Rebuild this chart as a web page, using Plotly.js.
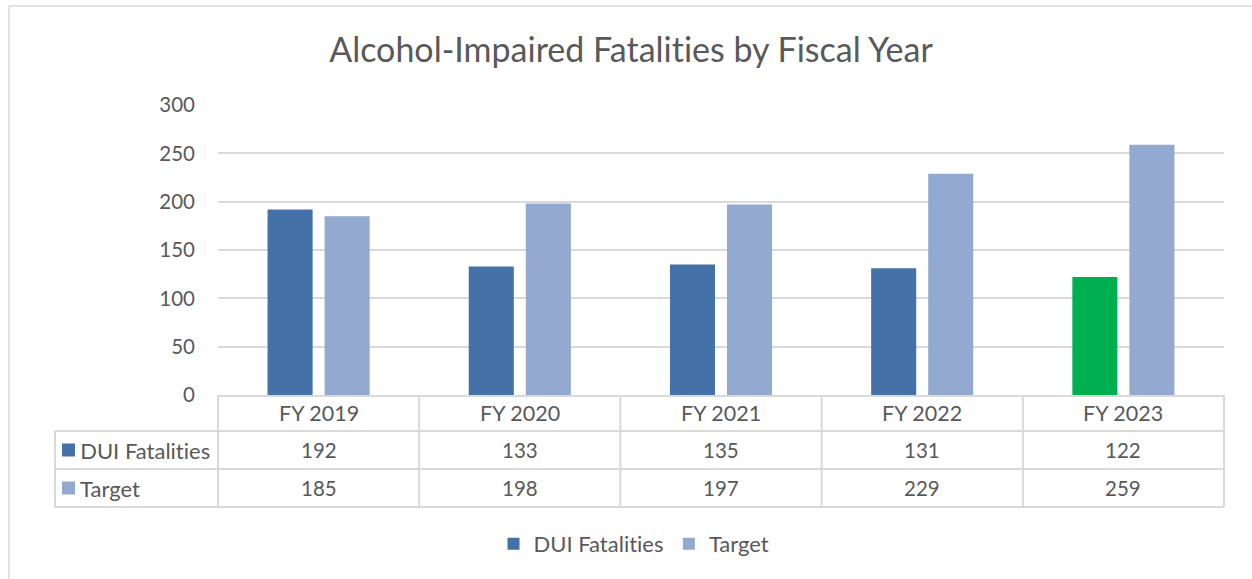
<!DOCTYPE html>
<html>
<head>
<meta charset="utf-8">
<script src="https://cdn.plot.ly/plotly-3.0.1.min.js"></script>
<style>html,body{margin:0;padding:0;background:#fff;}#chart{width:1252px;height:579px;}
#chart text{font-variant-ligatures:none;font-feature-settings:"liga" 0,"clig" 0;}</style>
</head>
<body>
<div id="chart"></div>
<script>
const categories = ['FY 2019', 'FY 2020', 'FY 2021', 'FY 2022', 'FY 2023'];
const duiFatalities = [192, 133, 135, 131, 122];
const target = [185, 198, 197, 229, 259];
const seriesNames = ['DUI Fatalities', 'Target'];
const yTicks = [0, 50, 100, 150, 200, 250, 300];

const W = 1252, H = 579;
const L = 218, R = 1224, T = 105, B = 395;
const pw = R - L, ph = B - T;
const px = x => (x - L) / pw;
const py = y => (B - y) / ph;

const FONT = 'Lato, "Open Sans", sans-serif';
const GREY = '#595959';
const LINE = '#d9d9d9';
const BLUE = '#4472a8';
const LIGHT = '#94a9d0';
const GREEN = '#00b050';

const duiColors = duiFatalities.map((v, i) => i === categories.length - 1 ? GREEN : BLUE);

const traces = [
  {type: 'bar', x: categories, y: duiFatalities, name: seriesNames[0],
   marker: {color: duiColors}, hoverinfo: 'x+y+name'},
  {type: 'bar', x: categories, y: target, name: seriesNames[1],
   marker: {color: LIGHT}, hoverinfo: 'x+y+name'}
];

const rowTop = [395, 431, 469, 507];
const shapes = [];
const annotations = [];

// outer chart border
shapes.push({type: 'rect', xref: 'paper', yref: 'paper',
  x0: px(9), x1: px(1262), y0: py(6), y1: py(600),
  line: {color: LINE, width: 1.5}, fillcolor: 'rgba(0,0,0,0)', layer: 'below'});

// table horizontal lines
[431, 469, 507].forEach(yy => {
  shapes.push({type: 'line', xref: 'paper', yref: 'paper', x0: px(55), x1: 1, y0: py(yy), y1: py(yy), line: {color: LINE, width: 2}});
});
// left edge of legend column
shapes.push({type: 'line', xref: 'paper', yref: 'paper', x0: px(55), x1: px(55), y0: py(431), y1: py(507), line: {color: LINE, width: 2}});
// category column separators
for (let i = 0; i <= categories.length; i++) {
  const xv = i / categories.length;
  shapes.push({type: 'line', xref: 'paper', yref: 'paper', x0: xv, x1: xv, y0: 0, y1: py(507), line: {color: LINE, width: 2}});
}

const rowMid = r => py((rowTop[r] + rowTop[r + 1]) / 2);
categories.forEach((c, i) => {
  annotations.push({xref: 'x', yref: 'paper', x: c, y: rowMid(0), text: c, showarrow: false,
    font: {family: FONT, size: 21.5, color: GREY}, xanchor: 'center', yanchor: 'middle'});
  annotations.push({xref: 'x', yref: 'paper', x: c, y: rowMid(1), text: String(duiFatalities[i]), showarrow: false,
    font: {family: FONT, size: 20.5, color: GREY}, xanchor: 'center', yanchor: 'middle'});
  annotations.push({xref: 'x', yref: 'paper', x: c, y: rowMid(2), text: String(target[i]), showarrow: false,
    font: {family: FONT, size: 20.5, color: GREY}, xanchor: 'center', yanchor: 'middle'});
});

// row keys
[[BLUE, 1], [LIGHT, 2]].forEach(([col, r], k) => {
  const cy = (rowTop[r] + rowTop[r + 1]) / 2;
  shapes.push({type: 'rect', xref: 'paper', yref: 'paper', x0: px(62), x1: px(75), y0: py(cy - 6.5), y1: py(cy + 6.5),
    line: {width: 0}, fillcolor: col});
  annotations.push({xref: 'paper', yref: 'paper', x: px(78), y: py(cy), text: seriesNames[k], showarrow: false,
    font: {family: FONT, size: 22, color: GREY}, xanchor: 'left', yanchor: 'middle'});
});

const layout = {
  width: W, height: H,
  margin: {l: L, r: W - R, t: T, b: H - B, pad: 0},
  paper_bgcolor: '#ffffff', plot_bgcolor: '#ffffff',
  font: {family: FONT, color: GREY, size: 20},
  title: {text: 'Alcohol-Impaired Fatalities by Fiscal Year', x: 631 / W, xanchor: 'center', xref: 'container',
    y: 1 - 50 / H, yanchor: 'middle', font: {family: FONT, size: 34, color: GREY}},
  barmode: 'group', bargap: 0.433, bargroupgap: 0.21,
  showlegend: true,
  legend: {orientation: 'h', xref: 'paper', yref: 'paper', x: px(634), xanchor: 'center',
    y: py(544), yanchor: 'middle', font: {family: FONT, size: 22, color: GREY}, traceorder: 'normal'},
  xaxis: {type: 'category', showticklabels: false, ticks: '', showgrid: false, zeroline: false,
    showline: true, linecolor: LINE, linewidth: 2, range: [-0.5, 4.5], fixedrange: true},
  yaxis: {range: [0, 300], tickvals: yTicks, ticks: '', showgrid: true, gridcolor: LINE, gridwidth: 2,
    zeroline: false, showline: false, ticklabelstandoff: 22, tickfont: {family: FONT, size: 20.5, color: GREY}, fixedrange: true},
  shapes: shapes,
  annotations: annotations
};

Plotly.newPlot('chart', traces, layout, {displayModeBar: false, staticPlot: true});
</script>
</body>
</html>
